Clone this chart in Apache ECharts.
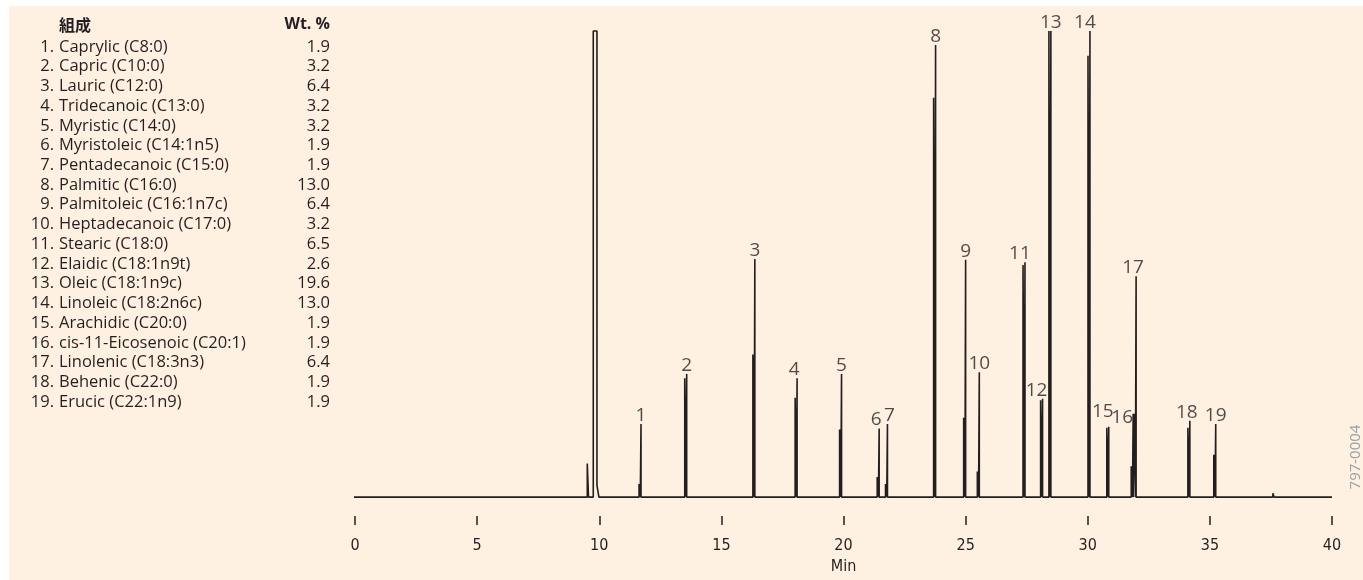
<!DOCTYPE html>
<html>
<head>
<meta charset="utf-8">
<script src="https://cdn.jsdelivr.net/npm/echarts@6/dist/echarts.min.js"></script>
<style>
  html, body { margin: 0; padding: 0; background: #ffffff; }
  #chart { width: 1363px; height: 580px; }
</style>
</head>
<body>
<div id="chart"></div>
<script>
// composition table
const compNames = ['Caprylic (C8:0)', 'Capric (C10:0)', 'Lauric (C12:0)', 'Tridecanoic (C13:0)',
  'Myristic (C14:0)', 'Myristoleic (C14:1n5)', 'Pentadecanoic (C15:0)', 'Palmitic (C16:0)',
  'Palmitoleic (C16:1n7c)', 'Heptadecanoic (C17:0)', 'Stearic (C18:0)', 'Elaidic (C18:1n9t)',
  'Oleic (C18:1n9c)', 'Linoleic (C18:2n6c)', 'Arachidic (C20:0)', 'cis-11-Eicosenoic (C20:1)',
  'Linolenic (C18:3n3)', 'Behenic (C22:0)', 'Erucic (C22:1n9)'];
const compWt = ['1.9', '3.2', '6.4', '3.2', '3.2', '1.9', '1.9', '13.0', '6.4', '3.2',
  '6.5', '2.6', '19.6', '13.0', '1.9', '1.9', '6.4', '1.9', '1.9'];

// numbered peaks (min, detector response)
const peakTime = [11.71, 13.58, 16.37, 18.10, 19.92, 21.46, 21.80, 23.77, 25.00, 25.56,
  27.43, 28.15, 28.49, 30.09, 30.86, 31.86, 31.98, 34.18, 35.24];
const peakHeight = [15.7, 26.4, 51.1, 25.5, 26.4, 14.7, 15.7, 97.0, 50.9, 26.8,
  50.4, 21.1, 100, 100, 15.1, 17.9, 47.4, 16.4, 15.7];
const shoulderHeight = [2.8, 25.5, 30.6, 21.3, 14.5, 4.3, 2.8, 85.7, 17.0, 5.5,
  49.8, 20.8, 100, 94.7, 14.9, 6.6, 17.9, 14.9, 9.1];

// unlabelled features: small peak before solvent, late blip
const minorTime = [9.51, 37.58];
const minorHeight = [7.2, 0.8];
const solventStart = 9.755, solventEnd = 9.906, solventTail = 2.5;
const runStart = -0.65, runEnd = 40;

const xTicks = [0, 5, 10, 15, 20, 25, 30, 35, 40];

// label nudges (px) so numbers sit like the original
const labelShift = { 4: [-3, 0], 6: [-3, 0], 7: [2, 0], 11: [-5, 0], 12: [-6, 0], 14: [-5, 0],
  15: [-6, -7], 16: [-11, 12], 17: [-3, 0], 18: [-3, 0] };

// build the trace
const events = [];
peakTime.forEach((t, i) => events.push({ t: t, kind: 'peak', h: peakHeight[i], s: shoulderHeight[i] }));
minorTime.forEach((t, i) => events.push({ t: t, kind: 'minor', h: minorHeight[i] }));
events.push({ t: solventStart, kind: 'solvent' });
events.sort((a, b) => a.t - b.t);

const trace = [[runStart, 0]];
events.forEach(e => {
  if (e.kind === 'peak') {
    trace.push([e.t - 0.08, 0], [e.t - 0.08, e.s], [e.t - 0.03, e.s], [e.t - 0.03, 0],
      [e.t, 0], [e.t, e.h], [e.t, 0]);
  } else if (e.kind === 'minor') {
    trace.push([e.t, 0], [e.t, e.h], [e.t + 0.05, e.h], [e.t + 0.05, 0]);
  } else {
    trace.push([solventStart, 0], [solventStart, 100], [solventEnd, 100], [solventEnd, solventTail],
      [solventEnd + 0.08, solventTail], [solventEnd + 0.08, 0]);
  }
});
trace.push([runEnd, 0]);

const labelData = peakTime.map((t, i) => {
  const no = i + 1;
  const item = { value: [t, peakHeight[i], no] };
  if (labelShift[no]) item.label = { offset: labelShift[no] };
  return item;
});

const ink = '#231f20';
const font = '"Open Sans", "Noto Sans", sans-serif';
const narrow = '"Liberation Sans Narrow", "DejaVu Sans Condensed", "Arial Narrow", ' + font;

const legendEls = [
  { type: 'text', left: 59, top: 17, style: { text: '組成', font: 'bold 16px "Noto Sans CJK JP", sans-serif', fill: ink } },
  { type: 'text', right: 1363 - 330, top: 16, style: { text: 'Wt. %', font: 'bold 16px ' + font, fill: ink, align: 'right' } }
];
compNames.forEach((n, i) => {
  const y = 47 + i * 19.72;
  legendEls.push({ type: 'text', x: 54, y: y, style: { text: (i + 1) + '.', font: '16.5px ' + font, fill: ink, align: 'right', verticalAlign: 'middle' } });
  legendEls.push({ type: 'text', x: 59, y: y, style: { text: n, font: '16.5px ' + font, fill: ink, verticalAlign: 'middle' } });
  legendEls.push({ type: 'text', x: 330, y: y, style: { text: compWt[i], font: '16.5px ' + font, fill: ink, align: 'right', verticalAlign: 'middle' } });
});
legendEls.push({ type: 'text', x: 1356, y: 457, rotation: Math.PI / 2,
  style: { text: '797-0004', font: '15px ' + font, fill: '#9aa1a8', align: 'center', verticalAlign: 'middle' } });

const chart = echarts.init(document.getElementById('chart'), null, { renderer: 'canvas' });
chart.setOption({
  backgroundColor: '#ffffff',
  animation: false,
  graphic: [
    { type: 'rect', left: 9, top: 6, shape: { width: 1354, height: 574 }, style: { fill: '#fef1e1' }, z: -10 }
  ].concat(legendEls),
  grid: { left: 355, right: 31, top: 31, bottom: 79 },
  xAxis: {
    type: 'value', min: 0, max: 40, interval: 5,
    offset: 19,
    axisLine: { show: false, onZero: false },
    axisTick: { show: true, length: 9, lineStyle: { color: ink, width: 1.5 } },
    splitLine: { show: false },
    axisLabel: { margin: 22, color: ink, fontSize: 16, fontFamily: narrow, customValues: xTicks },
    name: 'Min', nameLocation: 'middle', nameGap: 40,
    nameTextStyle: { color: ink, fontSize: 16, fontFamily: narrow }
  },
  yAxis: { type: 'value', min: 0, max: 100, show: false },
  series: [
    {
      type: 'line', data: trace, symbol: 'none', clip: false,
      lineStyle: { color: ink, width: 1.6 }
    },
    {
      type: 'scatter', data: labelData, symbolSize: 0, clip: false,
      label: { show: true, position: 'top', distance: -1, color: ink, fontSize: 19, fontFamily: font,
        formatter: p => String(p.value[2]) }
    }
  ]
});
</script>
</body>
</html>
